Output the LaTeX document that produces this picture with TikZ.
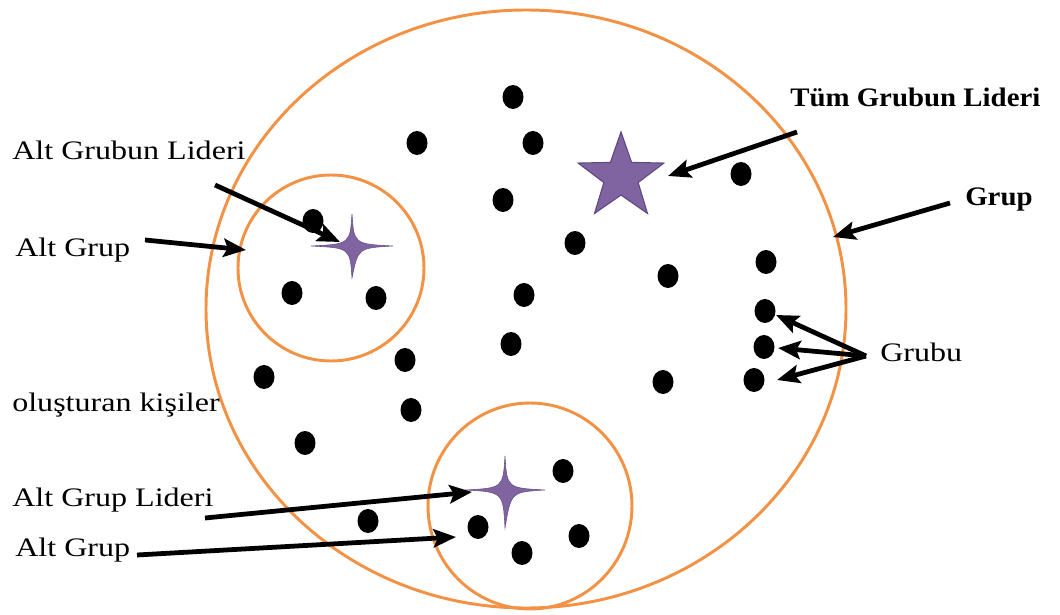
\documentclass[tikz,border=0pt]{standalone}
\usepackage{fontspec}
\setmainfont{Liberation Serif}
\newfontfamily\lblfont[FakeStretch=1.2]{Liberation Serif}
\newfontfamily\blblfont[FakeStretch=1.08]{Liberation Serif}
\usetikzlibrary{arrows.meta,shapes.geometric}
\definecolor{ringorange}{HTML}{F39244}
\definecolor{starfill}{HTML}{8064A2}
\definecolor{stardraw}{HTML}{5E4A80}
\tikzset{
  ring/.style={draw=ringorange, line width=2.1pt},
  person/.style={fill=black},
  lbl/.style={inner sep=0pt, anchor=west, font=\lblfont\fontsize{19}{22}\selectfont},
  blbl/.style={inner sep=0pt, anchor=west, font=\blblfont\fontsize{19}{22}\selectfont\bfseries},
  pointer/.style={line width=3.4pt, -{Stealth[length=16pt,width=13pt,inset=3pt]}, shorten >=0pt},
  fourstar/.style={fill=starfill, draw=starfill!80!black, line width=0.4pt}
}
\begin{document}
\begin{tikzpicture}[x=0.025cm,y=-0.025cm]
\useasboundingbox (0,0) rectangle (1060,615);
% rings
\draw[ring] (526,309) ellipse [x radius=320, y radius=299];
\draw[ring] (331,268) ellipse [x radius=93, y radius=93];
\draw[ring] (530,506) ellipse [x radius=102, y radius=103];
% people
\foreach \x/\y in {513/97, 417/143, 533/143, 741/174, 503/200, 313/221, 575/243, 766/262,
  668/276, 292/293, 376/298, 524/295, 765/311, 511/344, 764/347, 405/360, 264/377,
  663/382, 754/380, 411/410, 305/443, 563/471, 368/521, 478/527, 579/536, 522/553}
  \fill[person] (\x,\y) ellipse [x radius=10.5, y radius=12];
% big star
\node[star, star points=5, star point ratio=2.5, minimum size=2.25cm, inner sep=0pt,
  fill=starfill, draw=stardraw, line width=0.8pt] (bigstar) at (621,177) {};
% four-point stars
\coordinate (s1) at (352,246);
\fill[fourstar] (352,246) ++(41,0) .. controls (358,248) .. ++(-41,32)
  .. controls (350,248) .. ++(-41,-32) .. controls (350,244) .. ++(41,-32)
  .. controls (354,244) .. cycle;
\coordinate (s2) at (505,490);
\fill[fourstar] (505,490) ++(40,0) .. controls (511,492) .. ++(-40,38)
  .. controls (503,492) .. ++(-40,-38) .. controls (503,488) .. ++(40,-34)
  .. controls (507,488) .. cycle;
% labels
\node[blbl] (tum) at (790,97) {Tüm Grubun Lideri};
\node[blbl] (grup) at (965,200) {Grup};
\node[lbl] (altlider) at (12,150) {Alt Grubun Lideri};
\node[lbl] (altgrup1) at (15,250) {Alt Grup};
\node[lbl] (olus) at (12,405) {oluşturan kişiler};
\node[lbl] (altgrupl) at (12,500) {Alt Grup Lideri};
\node[lbl] (altgrup2) at (15,550) {Alt Grup};
\node[lbl] (grubu) at (880,352) {Grubu};
% arrow targets
\coordinate (tumT) at (668,176);
\coordinate (grupT) at (833,237);
\coordinate (altliderT) at (340,242);
\coordinate (altgrup1T) at (246,250);
\coordinate (gA) at (776,315);
\coordinate (gB) at (778,348);
\coordinate (gC) at (777,380);
\coordinate (altgruplT) at (472,492);
\coordinate (altgrup2T) at (456,537);
% arrow tails
\coordinate (tumS) at (797,132);
\coordinate (grupS) at (950,203);
\coordinate (altliderS) at (215,185);
\coordinate (altgrup1S) at (145,240);
\coordinate (grubuS) at (866,356);
\coordinate (altgruplS) at (205,518);
\coordinate (altgrup2S) at (137,555);
% arrows
\draw[pointer] (tumS) -- (tumT);
\draw[pointer] (grupS) -- (grupT);
\draw[pointer] (altliderS) -- (altliderT);
\draw[pointer] (altgrup1S) -- (altgrup1T);
\draw[pointer] (grubuS) -- (gA);
\draw[pointer] (grubuS) -- (gB);
\draw[pointer] (grubuS) -- (gC);
\draw[pointer] (altgruplS) -- (altgruplT);
\draw[pointer] (altgrup2S) -- (altgrup2T);
\end{tikzpicture}
\end{document}
